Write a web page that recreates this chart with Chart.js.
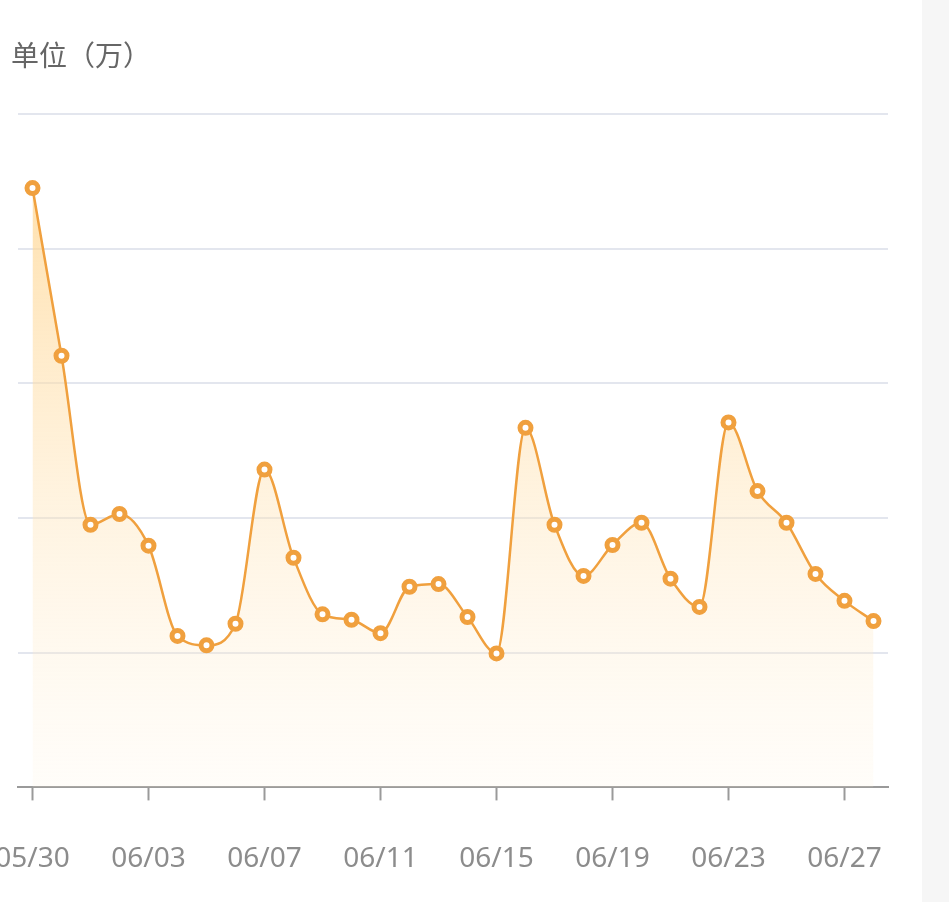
<!DOCTYPE html>
<html>
<head>
<meta charset="utf-8">
<script src="https://cdn.jsdelivr.net/npm/chart.js@4"></script>
<style>
    html, body { margin: 0; padding: 0; background: #fff; }
    #wrap { position: relative; width: 949px; height: 902px; overflow: hidden; }
    #box { position: absolute; left: 0; top: 0; width: 922px; height: 902px; }
    #side { position: absolute; left: 922px; top: 0; width: 27px; height: 902px; background: #f6f6f6; }
    #unit { position: absolute; left: 11px; top: 34px; font: 28px "Noto Sans CJK SC", sans-serif; color: #666; }
</style>
</head>
<body>
<div id="wrap">
    <div id="box"><canvas id="chart" width="922" height="902"></canvas></div>
    <div id="side"></div>
    <div id="unit">单位（万）</div>
</div>
<script>
    // data
    var dates = ["05/30", "05/31", "06/01", "06/02", "06/03", "06/04", "06/05", "06/06", "06/07", "06/08",
        "06/09", "06/10", "06/11", "06/12", "06/13", "06/14", "06/15", "06/16", "06/17", "06/18",
        "06/19", "06/20", "06/21", "06/22", "06/23", "06/24", "06/25", "06/26", "06/27", "06/28"];
    var values = [89.0, 64.1, 39.0, 40.6, 35.9, 22.5, 21.1, 24.3, 47.2, 34.1,
        25.7, 24.9, 22.9, 29.8, 30.2, 25.3, 19.9, 53.4, 39.0, 31.4,
        36.0, 39.3, 31.0, 26.8, 54.2, 44.0, 39.3, 31.7, 27.7, 24.7];
    var yTicks = [0, 20, 40, 60, 80, 100];

    var orange = "#F0A03E";

    var ctx = document.getElementById("chart").getContext("2d");
    var myChart = new Chart(ctx, {
        type: "line",
        data: {
            labels: dates,
            datasets: [{
                data: values,
                borderColor: orange,
                borderWidth: 2.5,
                cubicInterpolationMode: "monotone",
                fill: true,
                backgroundColor: function (c) {
                    var area = c.chart.chartArea;
                    if (!area) return "rgba(255,225,170,0.4)";
                    var g = c.chart.ctx.createLinearGradient(0, area.top, 0, area.bottom);
                    g.addColorStop(0, "rgba(255,210,135,0.8)");
                    g.addColorStop(1, "rgba(255,240,215,0.15)");
                    return g;
                },
                pointRadius: 5.5,
                pointHoverRadius: 5.5,
                pointBorderWidth: 5,
                pointBorderColor: orange,
                pointBackgroundColor: "#fff"
            }]
        },
        options: {
            responsive: false,
            animation: false,
            layout: { padding: { left: 18, right: 34, top: 114, bottom: -16 } },
            plugins: { legend: { display: false }, tooltip: { enabled: false } },
            scales: {
                x: {
                    offset: true,
                    grid: {
                        offset: false,
                        drawOnChartArea: false,
                        tickLength: 13,
                        tickWidth: 2,
                        color: function (c) { return c.index % 4 === 0 ? "#9a9a9a" : "rgba(0,0,0,0)"; }
                    },
                    border: { display: true, color: "#9a9a9a", width: 2 },
                    ticks: {
                        autoSkip: false,
                        maxRotation: 0,
                        padding: 42,
                        color: "#8c8c8c",
                        font: { family: "Noto Sans", size: 28 },
                        callback: function (v, i) { return i % 4 === 0 ? dates[i] : ""; }
                    },
                    afterFit: function (s) { s.paddingLeft = 0; s.paddingRight = 0; }
                },
                y: {
                    min: yTicks[0],
                    max: yTicks[yTicks.length - 1],
                    afterBuildTicks: function (s) { s.ticks = yTicks.map(function (v) { return { value: v }; }); },
                    ticks: { display: false },
                    grid: { color: "#E3E6EE", lineWidth: 2, drawTicks: false },
                    border: { display: false }
                }
            }
        }
    });
</script>
</body>
</html>
